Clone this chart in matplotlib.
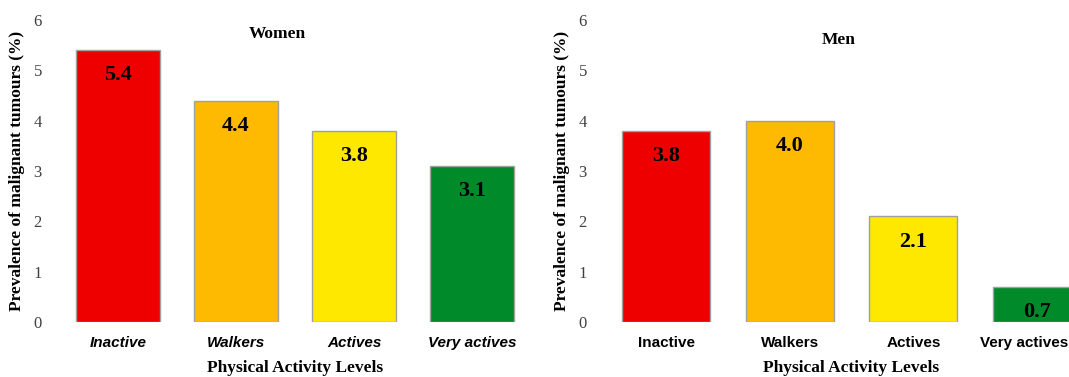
import matplotlib.pyplot as plt
import matplotlib.transforms as mtransforms

levels = ["Inactive", "Walkers", "Actives", "Very actives"]
women = [5.4, 4.4, 3.8, 3.1]
men = [3.8, 4.0, 2.1, 0.7]
colors = ["#EE0000", "#FDBA00", "#FFE800", "#008A2A"]

SERIF = "Liberation Serif"
SANS = "Liberation Sans"

W, H = 1069, 377
fig = plt.figure(figsize=(W / 100, H / 100), dpi=100)


def panel(rect, values, title, title_x, title_y, italic_ticks):
    ax = fig.add_axes(rect)
    x = range(len(values))
    bars = ax.bar(x, values, width=0.71, color=colors, edgecolor="#A0A0A0",
                  linewidth=1.0)
    for b, v in zip(bars, values):
        ax.annotate(f"{v:.1f}", (b.get_x() + b.get_width() / 2, v),
                    xytext=(0, -11), textcoords="offset points",
                    ha="center", va="top", fontsize=16, fontweight="bold",
                    family=SERIF)
    ax.set_xlim(-0.55, 3.55)
    ax.set_ylim(0, 6)
    ax.set_yticks(range(7))
    ax.set_xticks(list(x))
    ax.set_xticklabels(levels, family=SANS, fontweight="bold", fontsize=11,
                       style="italic" if italic_ticks else "normal")
    for lab in ax.get_yticklabels():
        lab.set_family(SERIF)
        lab.set_fontsize(12)
        lab.set_color("#404040")
    ax.tick_params(length=0, axis="y", pad=8)
    ax.tick_params(length=0, axis="x", pad=10)
    for s in ax.spines.values():
        s.set_visible(False)
    ax.set_ylabel("Prevalence of malignant tumours (%)", family=SERIF,
                  fontweight="bold", fontsize=12.5, labelpad=6)
    ax.set_xlabel("Physical Activity Levels", family=SERIF, fontweight="bold",
                  fontsize=12.5, labelpad=7)
    trans = mtransforms.blended_transform_factory(ax.transData, ax.transAxes)
    ax.text(title_x, title_y, title, transform=trans, ha="center",
            va="center", family=SERIF, fontweight="bold", fontsize=12.5)
    return ax


bottom = 1 - 322 / H
height = (322 - 20) / H
panel([53 / W, bottom, 484 / W, height], women, "Women", 1.35, 0.955, True)
ax_men = panel([598 / W, bottom, 507 / W, height], men, "Men", 1.40, 0.935,
               False)

# last label on the right panel sits against the figure edge
last = ax_men.get_xticklabels()[-1]
last.set_transform(last.get_transform() +
                   mtransforms.ScaledTranslation(-13 / 100, 0,
                                                 fig.dpi_scale_trans))

fig.savefig("out.png", dpi=100)
